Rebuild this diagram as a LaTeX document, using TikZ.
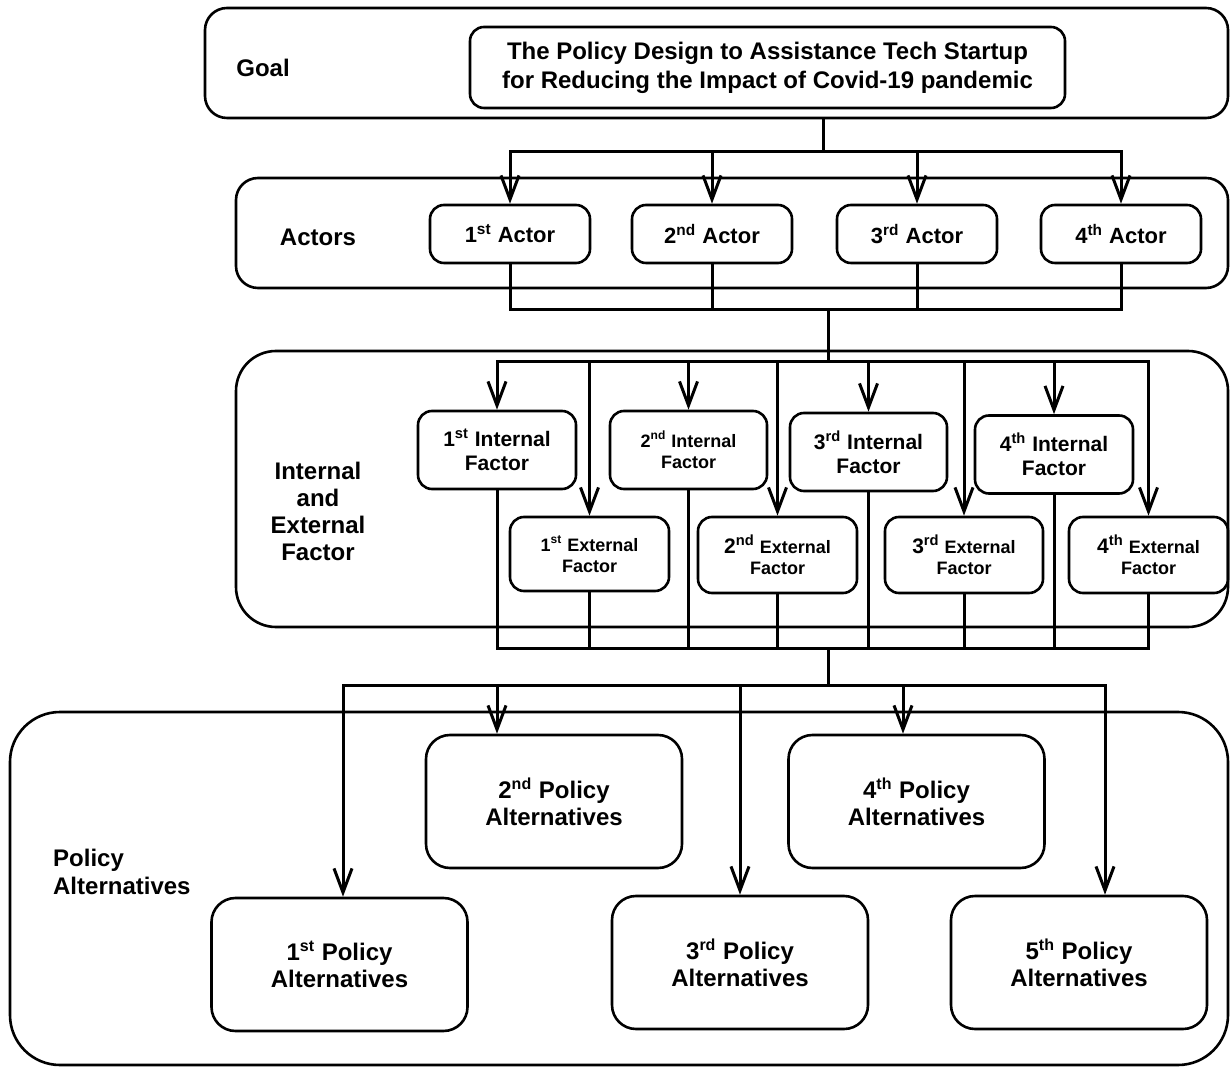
\documentclass[tikz,border=0pt]{standalone}
\usepackage{fontspec}
\setmainfont{Liberation Sans}
\usetikzlibrary{arrows.meta}
\newcommand\fmid{\fontsize{10.5}{12}\selectfont\bfseries}
\newcommand\fsml{\fontsize{9}{10.5}\selectfont\bfseries}
\begin{document}
\begin{tikzpicture}[x=0.5pt,y=-0.5pt,line width=1.5pt,
  font=\fontsize{12}{13.5}\selectfont\bfseries,
  panel/.style={draw,line width=1.3pt,rounded corners=#1,inner sep=0pt},
  box/.style={draw,line width=1.3pt,rounded corners=7pt,align=center,inner sep=0pt},
  arr/.style={-{Straight Barb[length=12pt,width=9pt]}}]
  \useasboundingbox (0,0) rectangle (1230,1068);
  % goal
  \node [panel=11pt,minimum width=511.5pt,minimum height=55pt] (goalpanel) at (716.5,63) {};
  \node [box,minimum width=297.5pt,minimum height=40.5pt,font=\fontsize{12}{14.5}\selectfont\bfseries] (goal) at (767.5,67.5) {The Policy Design to Assistance Tech Startup\\for Reducing the Impact of Covid-19 pandemic};
  \node (goallab) at (263,68) {Goal};
  % actors
  \node [panel=11pt,minimum width=496pt,minimum height=55pt] (actpanel) at (732,233) {};
  \node (actlab) at (318,237) {Actors};
  \foreach \i/\x/\o in {1/510/st,2/712/nd,3/917/rd,4/1121/th}
    \node [box,minimum width=80pt,minimum height=29pt,font=\fontsize{11}{13}\selectfont\bfseries] (a\i) at (\x,234) {\i\textsuperscript{\o} Actor};
  % factors
  \node [panel=20pt,minimum width=496pt,minimum height=138pt] (facpanel) at (732,489) {};
  \node [align=center] (faclab) at (318,511) {Internal\\and\\External\\Factor};
  \node [box,minimum width=79pt,minimum height=39pt,font=\fmid] (if1) at (497,450) {1\textsuperscript{st} Internal\\Factor};
  \node [box,minimum width=78.5pt,minimum height=39pt,font=\fsml] (if2) at (688.5,450) {2\textsuperscript{nd} Internal\\Factor};
  \node [box,minimum width=78.5pt,minimum height=39pt,font=\fmid] (if3) at (868.5,452) {3\textsuperscript{rd} Internal\\Factor};
  \node [box,minimum width=79pt,minimum height=39pt,font=\fmid] (if4) at (1054,454.5) {4\textsuperscript{th} Internal\\Factor};
  \node [box,minimum width=79.5pt,minimum height=37pt,font=\fsml] (ef1) at (589.5,554) {1\textsuperscript{st} External\\Factor};
  \node [box,minimum width=79.5pt,minimum height=38pt,font=\fsml] (ef2) at (777.5,555) {{\fmid 2\textsuperscript{nd}} External\\Factor};
  \node [box,minimum width=79pt,minimum height=38pt,font=\fsml] (ef3) at (964,555) {{\fmid 3\textsuperscript{rd}} External\\Factor};
  \node [box,minimum width=79.5pt,minimum height=38pt,font=\fsml] (ef4) at (1148.5,555) {{\fmid 4\textsuperscript{th}} External\\Factor};
  % policy alternatives
  \node [panel=25pt,minimum width=609pt,minimum height=176.5pt] (polpanel) at (619,888.5) {};
  \node [anchor=west,align=left,font=\fontsize{12}{14}\selectfont\bfseries] (pollab) at (45,872) {Policy\\Alternatives};
  \foreach \i/\x/\y/\o in {1/339.5/964.5/st,2/554/801.5/nd,3/740/962.5/rd,4/916.5/801.5/th,5/1079/962.5/th}
    \node [box,rounded corners=12pt,minimum width=128pt,minimum height=66.5pt] (p\i) at (\x,\y) {\i\textsuperscript{\o} Policy\\Alternatives};
  % connectors
  \coordinate (gtop) at (823,118);
  \coordinate (gbus) at (823,152);
  \draw (gtop) -- (gbus);
  \draw [line cap=rect] (a1 |- gbus) -- (a4 |- gbus);
  \foreach \i in {1,...,4}
    \draw [arr] (a\i |- gbus) -- (a\i.north);
  \coordinate (fa) at (828,310);
  \coordinate (fb) at (828,362);
  \draw [line cap=rect] (a1 |- fa) -- (a4 |- fa);
  \foreach \i in {1,...,4}
    \draw (a\i.south) -- (a\i |- fa);
  \draw (fa) -- (fb);
  \draw [line cap=rect] (if1 |- fb) -- (ef4 |- fb);
  \coordinate (fc) at (828,648);
  \draw [line cap=rect] (if1 |- fc) -- (ef4 |- fc);
  \foreach \i in {1,...,4} {
    \draw [arr] (if\i |- fb) -- (if\i.north);
    \draw [arr] (ef\i |- fb) -- (ef\i.north);
    \draw (if\i.south) -- (if\i |- fc);
    \draw (ef\i.south) -- (ef\i |- fc);
  }
  \coordinate (pa) at (828,685);
  \draw (fc) -- (pa);
  \foreach \n/\x in {1/343,2/497,3/740,4/903,5/1105} {
    \coordinate (q\n) at (\x,685);
    \draw [arr] (q\n) -- (q\n |- p\n.north);
  }
  \draw [line cap=rect] (q1) -- (q5);
\end{tikzpicture}
\end{document}
